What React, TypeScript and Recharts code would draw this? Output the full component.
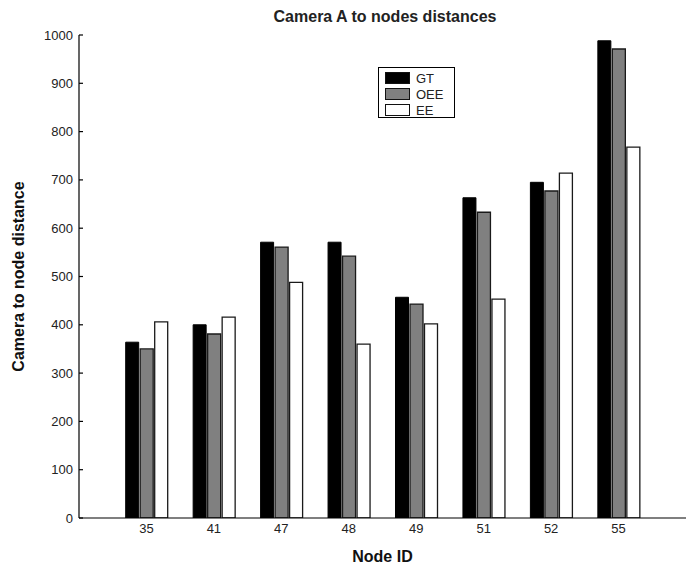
import React from "react";
import { BarChart, Bar, XAxis, YAxis, Legend } from "recharts";

const nodeIds = ["35", "41", "47", "48", "49", "51", "52", "55"];
const gtValues = [364, 400, 571, 571, 457, 663, 695, 988];
const oeeValues = [350, 381, 561, 542, 443, 633, 677, 971];
const eeValues = [406, 416, 488, 360, 402, 453, 714, 768];
const seriesNames = ["GT", "OEE", "EE"];
const yTicks = [0, 100, 200, 300, 400, 500, 600, 700, 800, 900, 1000];

const FONT = '"Liberation Sans", Arial, Helvetica, sans-serif';

const data = nodeIds.map((id, i) => ({
    node: id,
    GT: gtValues[i],
    OEE: oeeValues[i],
    EE: eeValues[i],
}));

const YTick = (props: any) => {
    const { x, y, payload } = props;
    return (
        <g>
            <line x1={x + 6} x2={x + 10} y1={y} y2={y} stroke="#000" strokeWidth={1.2} />
            <text x={x} y={y} dy="0.35em" textAnchor="end" fontSize={13} fill="#222" fontFamily={FONT}>
                {payload.value}
            </text>
        </g>
    );
};

// legend drawn in series order, not sorted
const LegendBox = (props: any) => {
    const items = [...(props.payload || [])].sort(
        (a: any, b: any) => seriesNames.indexOf(a.value) - seriesNames.indexOf(b.value)
    );
    return (
        <div
            style={{
                border: "1px solid #000",
                background: "#fff",
                width: 77,
                height: 51,
                boxSizing: "border-box",
                padding: "2px 0 0 6px",
                fontFamily: FONT,
                fontSize: 13,
                color: "#222",
            }}
        >
            {items.map((it: any) => (
                <div key={it.value} style={{ display: "flex", alignItems: "center", height: 16 }}>
                    <div
                        style={{
                            width: 25,
                            height: 12,
                            boxSizing: "border-box",
                            border: "1.5px solid #111",
                            background: it.payload?.fill ?? it.color,
                            marginRight: 6,
                        }}
                    />
                    <span>{it.value}</span>
                </div>
            ))}
        </div>
    );
};

const YLabel = (props: any) => {
    const vb = props.viewBox || { x: 0, y: 35, width: 79, height: 483 };
    const cx = vb.x + 18;
    const cy = vb.y + vb.height / 2;
    return (
        <text
            x={cx}
            y={cy}
            transform={`rotate(-90, ${cx}, ${cy})`}
            textAnchor="middle"
            dominantBaseline="central"
            fontSize={16}
            fontWeight="bold"
            fill="#111"
            fontFamily={FONT}
        >
            Camera to node distance
        </text>
    );
};

export default function App() {
    return (
        <div style={{ position: "absolute", left: 0, top: 0, width: 686, height: 566, background: "#fff" }}>
            <div
                style={{
                    position: "absolute",
                    left: 0,
                    top: 8,
                    width: 770,
                    textAlign: "center",
                    fontFamily: FONT,
                    fontSize: 16,
                    fontWeight: "bold",
                    color: "#222",
                }}
            >
                Camera A to nodes distances
            </div>
            <BarChart
                width={686}
                height={566}
                data={data}
                margin={{ top: 35, right: 0, bottom: 0, left: 0 }}
                barGap={1.5}
                barSize={13}
            >
                <XAxis
                    dataKey="node"
                    height={48}
                    padding={{ left: 33.7, right: 33.7 }}
                    axisLine={{ stroke: "#000", strokeWidth: 1.2 }}
                    tickLine={false}
                    tickSize={0}
                    tickMargin={6}
                    tick={{ fontSize: 13, fill: "#222", fontFamily: FONT }}
                    label={{
                        value: "Node ID",
                        position: "insideBottom",
                        offset: 4,
                        fontSize: 16,
                        fontWeight: "bold",
                        fill: "#111",
                        fontFamily: FONT,
                    }}
                />
                <YAxis
                    width={79}
                    domain={[0, 1000]}
                    ticks={yTicks}
                    interval={0}
                    allowDataOverflow
                    axisLine={{ stroke: "#000", strokeWidth: 1.2 }}
                    tickLine={false}
                    tickSize={0}
                    tickMargin={6}
                    tick={<YTick />}
                    label={{ content: <YLabel /> } as any}
                />
                <Legend
                    layout="vertical"
                    align="center"
                    verticalAlign="middle"
                    content={<LegendBox />}
                    wrapperStyle={{ position: "absolute", left: 378, top: 67, width: 77, height: 51 }}
                />
                <Bar dataKey="GT" fill="#000000" stroke="#000" strokeWidth={1} isAnimationActive={false} />
                <Bar dataKey="OEE" fill="#808080" stroke="#1a1a1a" strokeWidth={1.3} isAnimationActive={false} />
                <Bar dataKey="EE" fill="#ffffff" stroke="#1a1a1a" strokeWidth={1.3} isAnimationActive={false} />
            </BarChart>
        </div>
    );
}
